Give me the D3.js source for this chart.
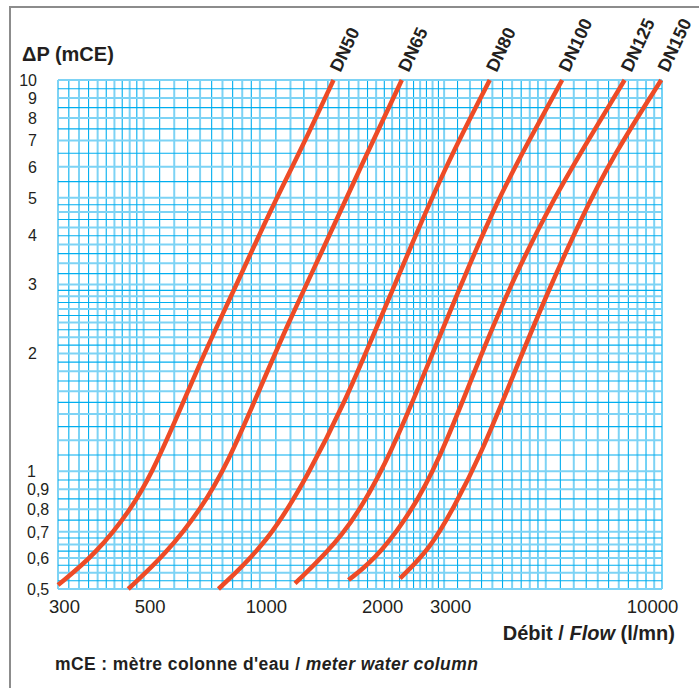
<!DOCTYPE html>
<meta charset="utf-8">
<html>
<head>
<style type="text/css">
    body { margin:0; background:#fff; }
    svg { display:block; }
    .lbl { font-family: "Liberation Sans", Arial, sans-serif; fill:#231f20; }
</style>
<script src="https://d3js.org/d3.v7.min.js"></script>
</head>
<body>
<svg width="699" height="688"></svg>
<script type="text/javascript">
    // DN curves, flow (l/mn) vs pressure drop (mCE)
    var seriesNames = ["DN50", "DN65", "DN80", "DN100", "DN125", "DN150"];
    var flowDN50  = [300, 374, 466, 525, 603, 707, 862, 1052, 1284, 1551];
    var dpDN50    = [0.512, 0.611, 0.804, 0.99, 1.34, 1.94, 2.94, 4.53, 6.7, 10];
    var flowDN65  = [456, 568, 707, 829, 980, 1190, 1450, 1810, 2331];
    var dpDN65    = [0.5, 0.611, 0.804, 1.06, 1.55, 2.42, 3.65, 5.9, 10];
    var flowDN80  = [781, 1052, 1335, 1660, 2050, 2500, 3049, 3938];
    var dpDN80    = [0.5, 0.66, 0.98, 1.5, 2.45, 3.9, 6.1, 10];
    var flowDN100 = [1233, 1650, 2050, 2404, 2764, 3366, 4107, 5050, 6065];
    var dpDN100   = [0.517, 0.68, 0.978, 1.39, 1.94, 3.1, 4.89, 7.2, 10];
    var flowDN125 = [1696, 2050, 2601, 3049, 3731, 4530, 5706, 7200, 8800];
    var dpDN125   = [0.527, 0.611, 0.853, 1.19, 1.98, 3.1, 4.89, 7.2, 10];
    var flowDN150 = [2307, 2764, 3171, 3731, 4530, 5530, 6730, 8250, 10950];
    var dpDN150   = [0.532, 0.636, 0.804, 1.10, 1.76, 2.83, 4.35, 6.45, 10];

    var xTickValues = [300, 500, 1000, 2000, 3000, 10000];
    var yTickValues = [0.5, 0.6, 0.7, 0.8, 0.9, 1, 2, 3, 4, 5, 6, 7, 8, 9, 10];
    var yTickLabels = ["0,5", "0,6", "0,7", "0,8", "0,9", "1", "2", "3", "4", "5", "6", "7", "8", "9", "10"];

    // log paper rulings: [from, to, step]
    var xGridSteps = [[300, 500, 20], [500, 1000, 50], [1000, 3000, 100], [3000, 5500, 250], [5500, 11000, 500]];
    var yGridSteps = [[0.5, 0.7, 0.025], [0.7, 1, 0.05], [1, 3, 0.1], [3, 5, 0.2], [5, 10, 0.5]];

    var flows = [flowDN50, flowDN65, flowDN80, flowDN100, flowDN125, flowDN150];
    var dps = [dpDN50, dpDN65, dpDN80, dpDN100, dpDN125, dpDN150];

    var plot = {left: 58, right: 662, top: 80, bottom: 589};

    var xScale = d3.scaleLog().domain([300, 11000]).range([plot.left, plot.right]);
    var yScale = d3.scaleLog().domain([0.5, 10]).range([plot.bottom, plot.top]);

    var svg = d3.select("svg");

    // grey frame
    svg.append("path")
        .attr("d", "M10,688V7H699")
        .attr("fill", "none")
        .attr("stroke", "#8c8c8c")
        .attr("stroke-width", 2);

    function gridValues(steps) {
        var vals = [];
        steps.forEach(s => {
            d3.range(0, Math.round((s[1] - s[0]) / s[2])).forEach(i => vals.push(s[0] + i * s[2]));
        });
        vals.push(steps[steps.length - 1][1]);
        return vals;
    }

    var gx = gridValues(xGridSteps);
    var gy = gridValues(yGridSteps);

    var grid = svg.append("g");
    grid.selectAll("line.gx")
        .data(gx)
        .enter().append("line")
        .attr("x1", d => xScale(d)).attr("x2", d => xScale(d))
        .attr("y1", plot.top).attr("y2", plot.bottom)
        .attr("stroke", (d, i) => i % 2 === 0 ? "#7dd3f5" : "#00aeef")
        .attr("stroke-width", (d, i) => i % 2 === 0 ? 2 : 1.1);
    grid.selectAll("line.gy")
        .data(gy)
        .enter().append("line")
        .attr("y1", d => yScale(d)).attr("y2", d => yScale(d))
        .attr("x1", plot.left).attr("x2", plot.right)
        .attr("stroke", (d, i) => i % 2 === 0 ? "#7dd3f5" : "#00aeef")
        .attr("stroke-width", (d, i) => i % 2 === 0 ? 2 : 1.1);

    // curves
    var line = d3.line()
        .x(d => xScale(d[0]))
        .y(d => yScale(d[1]))
        .curve(d3.curveBasis);

    seriesNames.forEach((name, k) => {
        var pts = flows[k].map((q, i) => [q, dps[k][i]]);
        svg.append("path")
            .attr("d", line(pts))
            .attr("fill", "none")
            .attr("stroke", "#ee4b26")
            .attr("stroke-width", 4.5);

        var last = pts[pts.length - 1];
        svg.append("text")
            .attr("class", "lbl")
            .attr("transform", "translate(" + [xScale(last[0]) + 7, plot.top - 7] + ") rotate(-65)")
            .style("font-size", "18px")
            .style("font-weight", "bold")
            .text(name);
    });

    // x tick labels
    var xAxis = d3.axisBottom(xScale)
        .tickValues(xTickValues)
        .tickFormat(d3.format("d"))
        .tickSize(0)
        .tickPadding(11);
    var xg = svg.append("g")
        .attr("transform", "translate(" + [0, plot.bottom] + ")")
        .call(xAxis);
    xg.select(".domain").remove();
    xg.selectAll("text")
        .attr("class", "lbl")
        .attr("dx", 6)
        .style("font-size", "18.5px");

    // y tick labels
    svg.selectAll("text.ylab")
        .data(yTickValues)
        .enter().append("text")
        .attr("class", "lbl")
        .attr("x", d => d <= 1 ? 27 : 37)
        .attr("y", d => yScale(d))
        .attr("dy", "0.36em")
        .style("text-anchor", d => d <= 1 ? "start" : "end")
        .style("font-size", "16px")
        .text((d, i) => yTickLabels[i]);

    // axis titles
    svg.append("text")
        .attr("class", "lbl")
        .attr("x", 22).attr("y", 61)
        .style("font-size", "20px")
        .style("font-weight", "bold")
        .text("\u0394P (mCE)");

    var xt = svg.append("text")
        .attr("class", "lbl")
        .attr("x", 675).attr("y", 640)
        .style("text-anchor", "end")
        .style("font-size", "20px")
        .style("font-weight", "bold");
    xt.append("tspan").text("D\u00e9bit / ");
    xt.append("tspan").style("font-style", "italic").text("Flow");
    xt.append("tspan").text(" (l/mn)");

    var ft = svg.append("text")
        .attr("class", "lbl")
        .attr("x", 55).attr("y", 670)
        .style("font-size", "17.5px")
        .style("font-weight", "bold")
        .style("letter-spacing", "0.4px");
    ft.append("tspan").text("mCE : m\u00e8tre colonne d'eau / ");
    ft.append("tspan").style("font-style", "italic").text("meter water column");
</script>
</body>
</html>
